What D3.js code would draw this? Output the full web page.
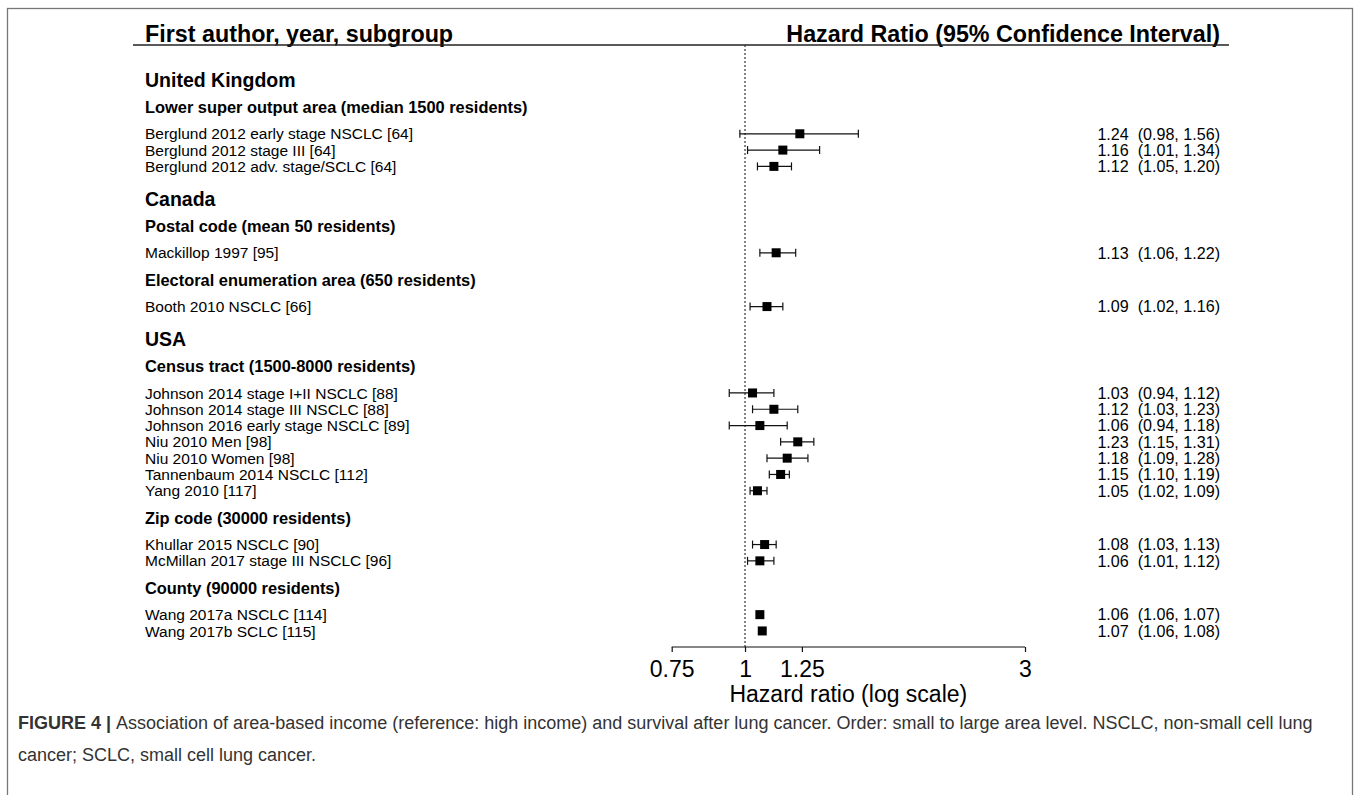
<!DOCTYPE html>
<html>
<head>
<meta charset="utf-8">
<script src="https://cdn.jsdelivr.net/npm/d3@7"></script>
<style>
	body { margin: 0; background: #fff; }
	svg text { font-family: "Liberation Sans", Arial, sans-serif; white-space: pre; }
</style>
</head>
<body>
<div id="forest"></div>
<script>
// data
const countries = ["United Kingdom", "Canada", "USA"];
const area_levels = [
	"Lower super output area (median 1500 residents)",
	"Postal code (mean 50 residents)",
	"Electoral enumeration area (650 residents)",
	"Census tract (1500-8000 residents)",
	"Zip code (30000 residents)",
	"County (90000 residents)",
];
const area_country = [0, 1, 1, 2, 2, 2];
const studies = [
	"Berglund 2012 early stage NSCLC [64]",
	"Berglund 2012 stage III [64]",
	"Berglund 2012 adv. stage/SCLC [64]",
	"Mackillop 1997 [95]",
	"Booth 2010 NSCLC [66]",
	"Johnson 2014 stage I+II NSCLC [88]",
	"Johnson 2014 stage III NSCLC [88]",
	"Johnson 2016 early stage NSCLC [89]",
	"Niu 2010 Men [98]",
	"Niu 2010 Women [98]",
	"Tannenbaum 2014 NSCLC [112]",
	"Yang 2010 [117]",
	"Khullar 2015 NSCLC [90]",
	"McMillan 2017 stage III NSCLC [96]",
	"Wang 2017a NSCLC [114]",
	"Wang 2017b SCLC [115]",
];
const study_area = [0, 0, 0, 1, 2, 3, 3, 3, 3, 3, 3, 3, 4, 4, 5, 5];
const hr = [1.24, 1.16, 1.12, 1.13, 1.09, 1.03, 1.12, 1.06, 1.23, 1.18, 1.15, 1.05, 1.08, 1.06, 1.06, 1.07];
const lo = [0.98, 1.01, 1.05, 1.06, 1.02, 0.94, 1.03, 0.94, 1.15, 1.09, 1.10, 1.02, 1.03, 1.01, 1.06, 1.06];
const hi = [1.56, 1.34, 1.20, 1.22, 1.16, 1.12, 1.23, 1.18, 1.31, 1.28, 1.19, 1.09, 1.13, 1.12, 1.07, 1.08];
const tick_values = [0.75, 1, 1.25, 3];

const width = 1357;
const height = 795;

// build the row list: country header, area header, then the studies
let rows = [];
let pos = 0;
countries.forEach((c, ci) => {
	if (ci > 0) pos += 2;
	rows.push({ type: "country", text: c, pos: pos });
	area_levels.forEach((a, ai) => {
		if (area_country[ai] !== ci) return;
		pos += 1.65;
		rows.push({ type: "area", text: a, pos: pos });
		let first = true;
		studies.forEach((s, si) => {
			if (study_area[si] !== ai) return;
			pos += first ? 1.65 : 1;
			first = false;
			rows.push({ type: "study", text: s, pos: pos, hr: hr[si], lo: lo[si], hi: hi[si] });
		});
	});
});

const svg = d3
	.select("#forest")
	.append("svg")
	.attr("width", width)
	.attr("height", height);

// outer frame
svg.append("rect")
	.attr("x", 7.5)
	.attr("y", 8.5)
	.attr("width", 1345)
	.attr("height", 800)
	.attr("fill", "none")
	.attr("stroke", "#777")
	.attr("stroke-width", 1.3);

const y = d3.scaleLinear().domain([0, 1]).range([80, 96.3]);
const x = d3.scaleLog().domain([0.75, 3]).range([671.7, 1025]);

// header
svg.append("text")
	.attr("x", 145)
	.attr("y", 42)
	.attr("font-size", 23.3)
	.attr("font-weight", "bold")
	.text("First author, year, subgroup");
svg.append("text")
	.attr("x", 1220)
	.attr("y", 42)
	.attr("text-anchor", "end")
	.attr("font-size", 23.3)
	.attr("font-weight", "bold")
	.text("Hazard Ratio (95% Confidence Interval)");
svg.append("line")
	.attr("x1", 133)
	.attr("x2", 1229)
	.attr("y1", 45)
	.attr("y2", 45)
	.attr("stroke", "#222")
	.attr("stroke-width", 1.3);

// reference line at HR = 1
svg.append("line")
	.attr("x1", x(1))
	.attr("x2", x(1))
	.attr("y1", 45)
	.attr("y2", 647)
	.attr("stroke", "#333")
	.attr("stroke-width", 1.2)
	.attr("stroke-dasharray", "2,2");

// row labels
const font_size = { country: 19.5, area: 16.4, study: 15.5 };
svg.append("g")
	.selectAll("text")
	.data(rows)
	.join("text")
	.attr("x", 145)
	.attr("y", (d) => y(d.pos))
	.attr("dy", "0.36em")
	.attr("font-size", (d) => font_size[d.type])
	.attr("font-weight", (d) => (d.type === "study" ? "normal" : "bold"))
	.text((d) => d.text);

const study_rows = rows.filter((d) => d.type === "study");

// confidence intervals
const ci = svg.append("g").attr("stroke", "#111").attr("stroke-width", 1.2);
ci.selectAll(".ci_line")
	.data(study_rows)
	.join("line")
	.attr("x1", (d) => x(d.lo))
	.attr("x2", (d) => x(d.hi))
	.attr("y1", (d) => y(d.pos))
	.attr("y2", (d) => y(d.pos));
ci.selectAll(".ci_lo")
	.data(study_rows)
	.join("line")
	.attr("x1", (d) => x(d.lo))
	.attr("x2", (d) => x(d.lo))
	.attr("y1", (d) => y(d.pos) - 4)
	.attr("y2", (d) => y(d.pos) + 4);
ci.selectAll(".ci_hi")
	.data(study_rows)
	.join("line")
	.attr("x1", (d) => x(d.hi))
	.attr("x2", (d) => x(d.hi))
	.attr("y1", (d) => y(d.pos) - 4)
	.attr("y2", (d) => y(d.pos) + 4);

// point estimates
const box = 9;
svg.append("g")
	.selectAll("rect")
	.data(study_rows)
	.join("rect")
	.attr("x", (d) => x(d.hr) - box / 2)
	.attr("y", (d) => y(d.pos) - box / 2)
	.attr("width", box)
	.attr("height", box)
	.attr("fill", "#000");

// HR (95% CI) text column
svg.append("g")
	.selectAll("text")
	.data(study_rows)
	.join("text")
	.attr("x", 1220)
	.attr("y", (d) => y(d.pos))
	.attr("dy", "0.36em")
	.attr("text-anchor", "end")
	.attr("font-size", 16.1)
	.text((d) => d.hr.toFixed(2) + "  (" + d.lo.toFixed(2) + ", " + d.hi.toFixed(2) + ")");

// x axis
const axis = svg.append("g")
	.attr("transform", "translate(0,647)")
	.call(
		d3.axisBottom(x)
			.tickValues(tick_values)
			.tickFormat((d) => d3.format("")(d))
			.tickSize(5)
			.tickSizeOuter(0)
	);
axis.select(".domain").attr("stroke", "#111").attr("stroke-width", 1.2).attr("d", "M" + x(0.75) + ",0H" + x(3));
axis.selectAll(".tick line").attr("stroke", "#111").attr("stroke-width", 1.2);
axis.selectAll(".tick text")
	.attr("font-size", 23)
	.attr("font-family", "Liberation Sans, Arial, sans-serif")
	.attr("fill", "#000")
	.attr("y", 30)
	.attr("dy", 0);
svg.append("text")
	.attr("x", (x(0.75) + x(3)) / 2)
	.attr("y", 702)
	.attr("text-anchor", "middle")
	.attr("font-size", 23)
	.text("Hazard ratio (log scale)");

// caption
const cap = svg.append("text")
	.attr("x", 18)
	.attr("y", 729)
	.attr("font-size", 18)
	.attr("fill", "#333");
cap.append("tspan").attr("font-weight", "bold").text("FIGURE 4 | ");
cap.append("tspan").text("Association of area-based income (reference: high income) and survival after lung cancer. Order: small to large area level. NSCLC, non-small cell lung");
svg.append("text")
	.attr("x", 18)
	.attr("y", 761)
	.attr("font-size", 18)
	.attr("fill", "#333")
	.text("cancer; SCLC, small cell lung cancer.");
</script>
</body>
</html>
